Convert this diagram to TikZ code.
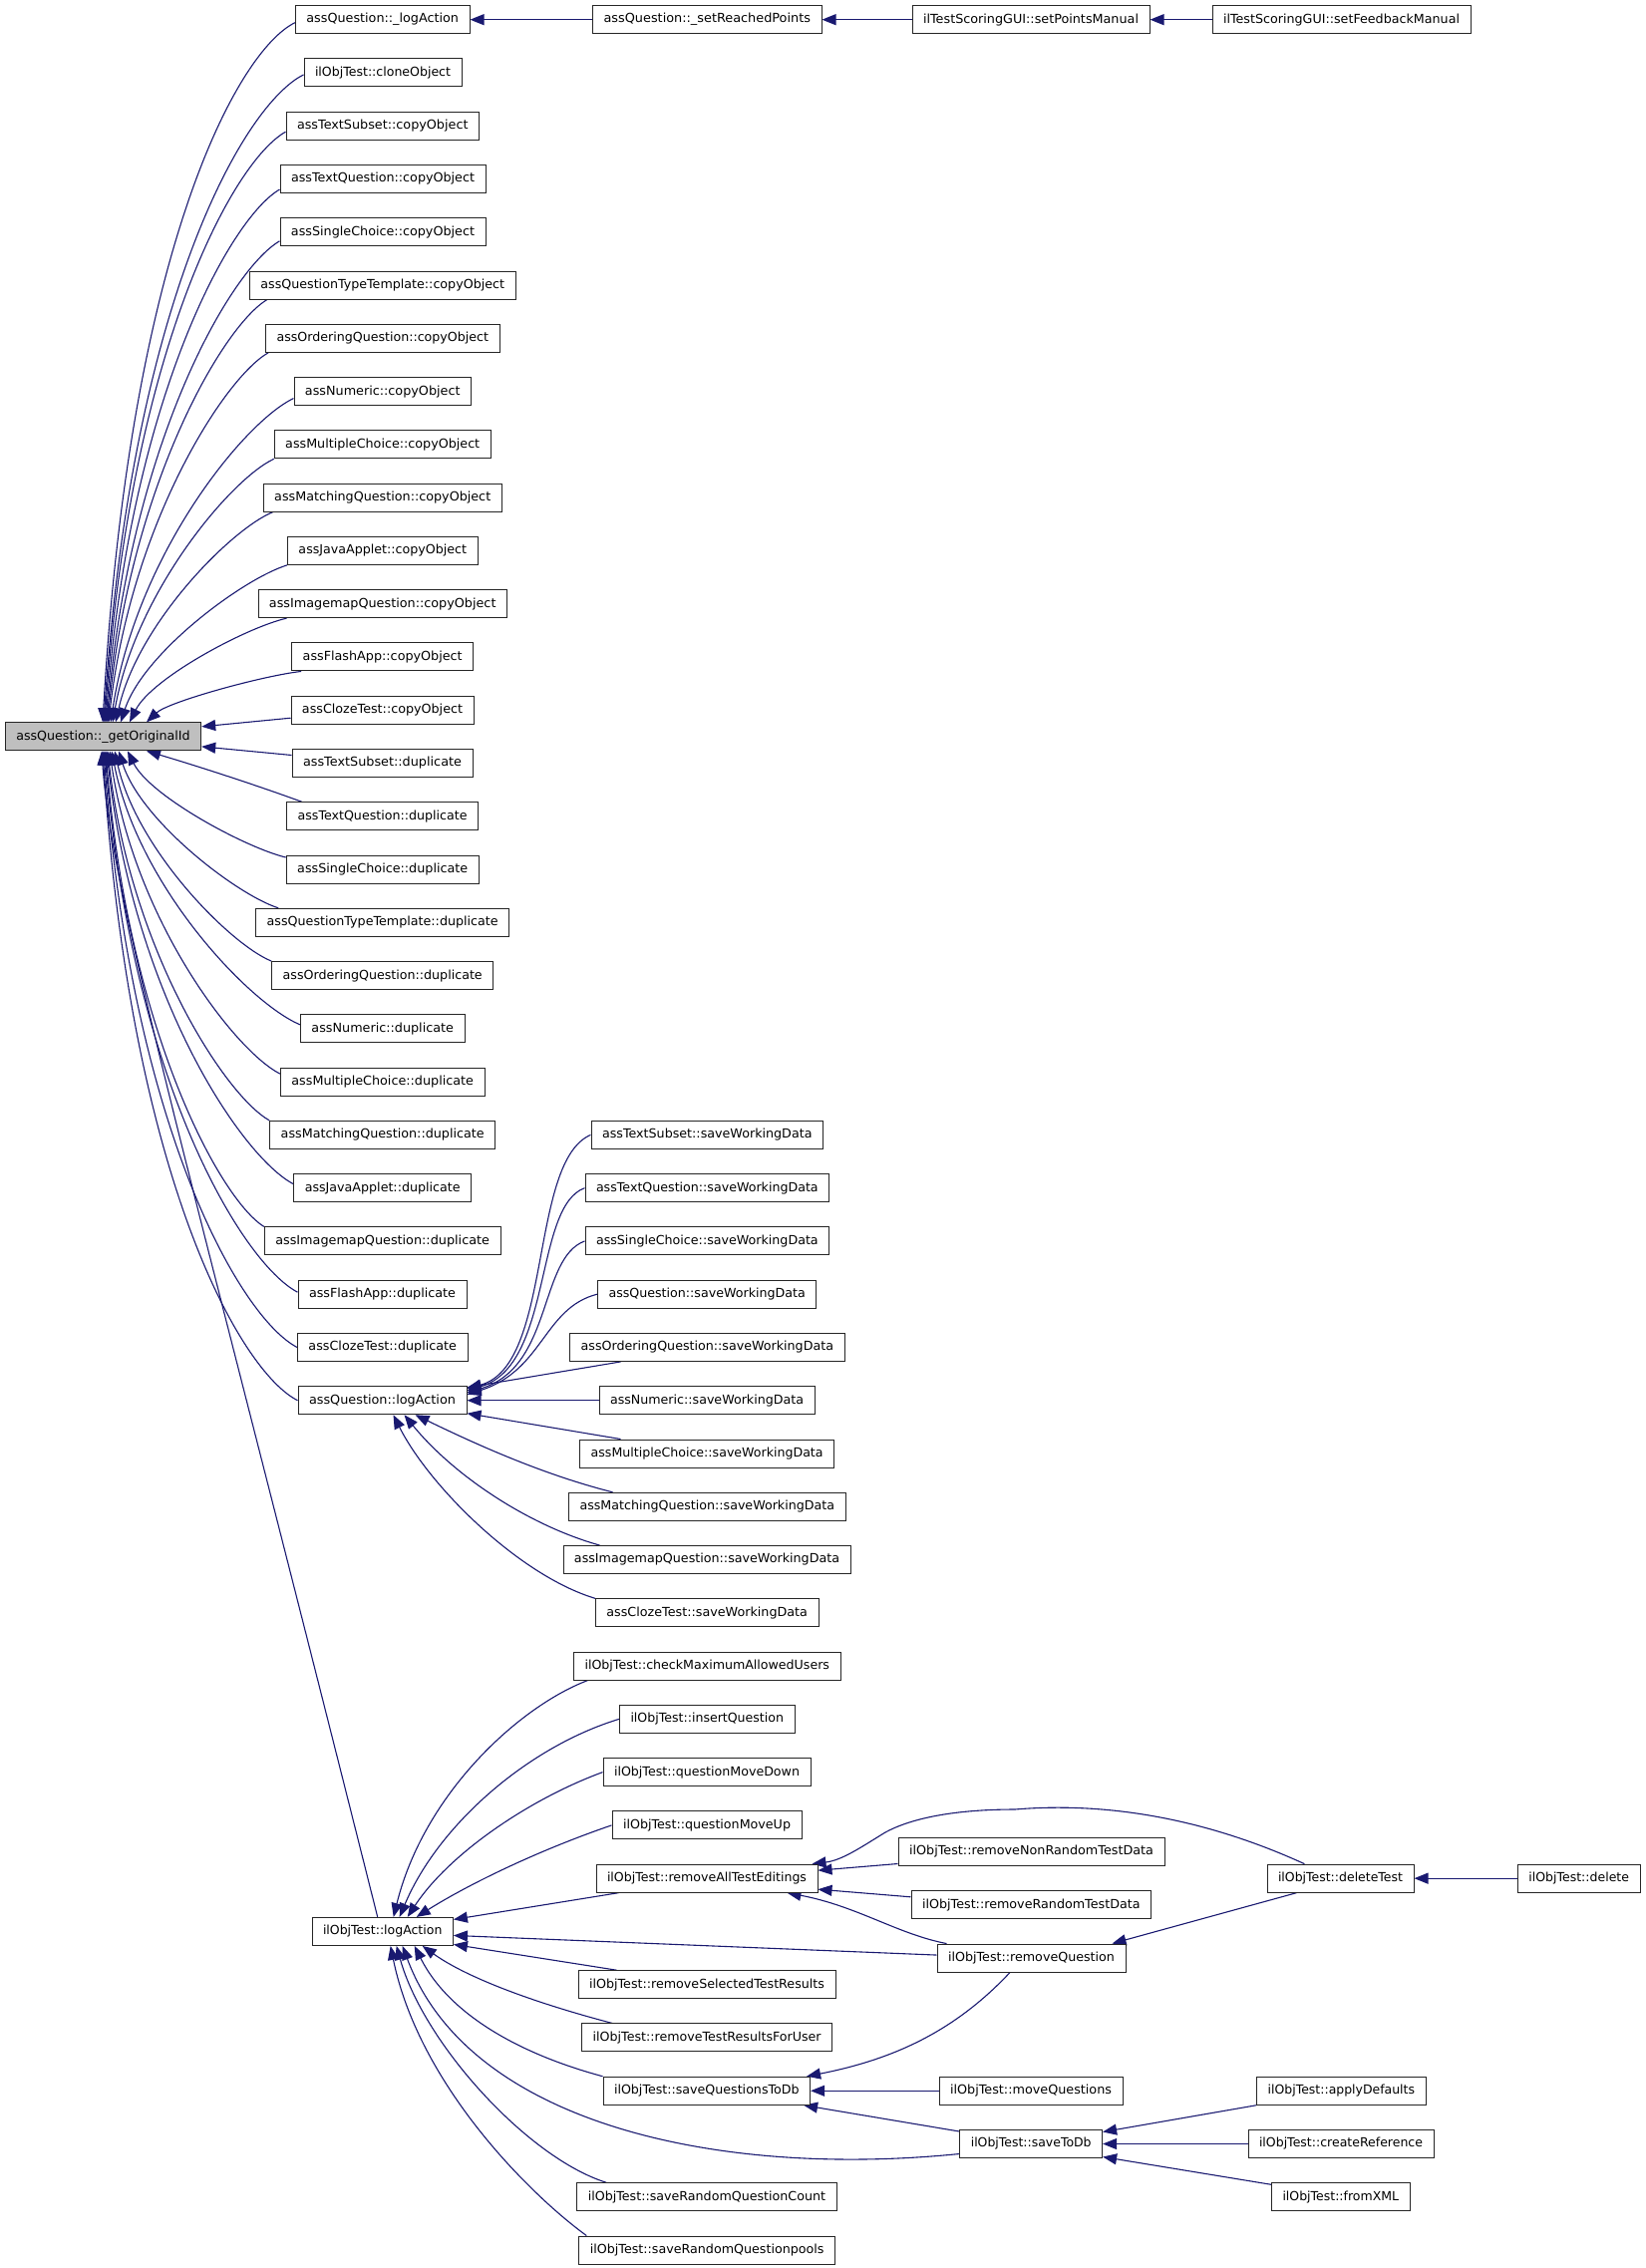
\documentclass[tikz,border=0pt]{standalone}
\usepackage{fontspec}
\setmainfont{DejaVu Sans}
\usepackage{graphicx}
\usetikzlibrary{arrows.meta,calc}
\pgfdeclarelayer{background}
\pgfsetlayers{background,main}
\definecolor{edgec}{HTML}{191970}
\definecolor{nodegray}{HTML}{BFBFBF}
\tikzset{
 box/.style={draw=black!85, line width=1pt, minimum height=28pt, inner sep=0pt, fill=white, font=\fontsize{12.5}{14}\selectfont},
 edge/.style={draw=edgec, line width=1.1pt, -{Triangle[length=14pt,width=11pt]}},
}
\newcommand\mknode[6][]{\node[box,#1,minimum width={(#4-#3)*1pt}] (#2) at ({(#3+#4)/2},#5) {\resizebox{\dimexpr #4pt-#3pt-22pt\relax}{\height}{#6}};}
% #1 start coordinate, #2 #3 its pixel position, #4 end x, #5 end y, #6 anchor of main
\newcommand\fanedge[6]{\draw[edge] #1 .. controls ({#2-(0.25+0.05*abs(#5-#3)/705)*(#2-#4)},{#3+(0.1-0.06*abs(#5-#3)/705)*(#5-#3)}) and ({#4+0.14*(#2-#4)},{#3+(0.62-0.3*abs(#5-#3)/705)*(#5-#3)}) .. ($(main.#6)+({#4-103.5},0)$);}
\begin{document}
\begin{tikzpicture}[x=1pt,y=-1pt]
\useasboundingbox (0,0) rectangle (1651,2275);
% column 1
\mknode[fill=nodegray]{main}{5.3}{201.7}{738.85}{assQuestion::\_getOriginalId}
% column 2
\mknode{qla}{296.4}{471}{19.7}{assQuestion::\_logAction}
\mknode{clone}{305}{463}{72.97}{ilObjTest::cloneObject}
\mknode{tsc}{287}{480.5}{126.24}{assTextSubset::copyObject}
\mknode{tqc}{281}{487}{179.51}{assTextQuestion::copyObject}
\mknode{scc}{281}{487}{232.78}{assSingleChoice::copyObject}
\mknode{qttc}{250.4}{517}{286.05}{assQuestionTypeTemplate::copyObject}
\mknode{oqc}{266.6}{501}{339.32}{assOrderingQuestion::copyObject}
\mknode{nc}{295}{472.5}{392.59}{assNumeric::copyObject}
\mknode{mcc}{275.2}{492.2}{445.86}{assMultipleChoice::copyObject}
\mknode{mqc}{264.2}{503.2}{499.13}{assMatchingQuestion::copyObject}
\mknode{jac}{288.5}{479}{552.4}{assJavaApplet::copyObject}
\mknode{imc}{259}{508.5}{605.67}{assImagemapQuestion::copyObject}
\mknode{fac}{292.7}{474.7}{658.94}{assFlashApp::copyObject}
\mknode{ctc}{292}{475}{712.21}{assClozeTest::copyObject}
\mknode{tsd}{293}{474}{765.48}{assTextSubset::duplicate}
\mknode{tqd}{287.6}{479.5}{818.75}{assTextQuestion::duplicate}
\mknode{scd}{287.2}{480.2}{872.02}{assSingleChoice::duplicate}
\mknode{qttd}{256.7}{510.7}{925.29}{assQuestionTypeTemplate::duplicate}
\mknode{oqd}{272.7}{494.7}{978.56}{assOrderingQuestion::duplicate}
\mknode{nd}{301.5}{466}{1031.83}{assNumeric::duplicate}
\mknode{mcd}{281.4}{486}{1085.1}{assMultipleChoice::duplicate}
\mknode{mqd}{270.7}{496.7}{1138.37}{assMatchingQuestion::duplicate}
\mknode{jad}{294.8}{472.6}{1191.64}{assJavaApplet::duplicate}
\mknode{imd}{265.3}{502}{1244.91}{assImagemapQuestion::duplicate}
\mknode{fad}{299}{468}{1298.18}{assFlashApp::duplicate}
\mknode{ctd}{298.5}{469}{1351.45}{assClozeTest::duplicate}
\mknode{qlog}{299}{468}{1404.72}{assQuestion::logAction}
\mknode{iolog}{313}{454.4}{1937.42}{ilObjTest::logAction}
% column 3
\mknode{srp}{594.6}{824}{19.7}{assQuestion::\_setReachedPoints}
\mknode{tsw}{593}{825.5}{1138.37}{assTextSubset::saveWorkingData}
\mknode{tqw}{587}{831.7}{1191.64}{assTextQuestion::saveWorkingData}
\mknode{scw}{587}{831.7}{1244.91}{assSingleChoice::saveWorkingData}
\mknode{qw}{599.5}{818.8}{1298.18}{assQuestion::saveWorkingData}
\mknode{oqw}{571.7}{847}{1351.45}{assOrderingQuestion::saveWorkingData}
\mknode{nw}{601}{817}{1404.72}{assNumeric::saveWorkingData}
\mknode{mcw}{581.7}{836.6}{1457.99}{assMultipleChoice::saveWorkingData}
\mknode{mqw}{570.5}{848}{1511.26}{assMatchingQuestion::saveWorkingData}
\mknode{imw}{565}{853}{1564.53}{assImagemapQuestion::saveWorkingData}
\mknode{ctw}{597.4}{821}{1617.8}{assClozeTest::saveWorkingData}
\mknode{cmau}{575.5}{843}{1671.07}{ilObjTest::checkMaximumAllowedUsers}
\mknode{iq}{621.5}{797}{1724.34}{ilObjTest::insertQuestion}
\mknode{qmd}{605}{813}{1777.61}{ilObjTest::questionMoveDown}
\mknode{qmu}{614}{804}{1830.88}{ilObjTest::questionMoveUp}
\mknode{rate}{598}{820}{1884.15}{ilObjTest::removeAllTestEditings}
\mknode{rstr}{580}{838}{1990.69}{ilObjTest::removeSelectedTestResults}
\mknode{rtrfu}{583.7}{834.6}{2043.96}{ilObjTest::removeTestResultsForUser}
\mknode{sqtd}{605}{812.6}{2097.23}{ilObjTest::saveQuestionsToDb}
\mknode{srqc}{578.8}{839}{2203.77}{ilObjTest::saveRandomQuestionCount}
\mknode{srqp}{580.8}{837.5}{2257.04}{ilObjTest::saveRandomQuestionpools}
% column 4
\mknode{spm}{915}{1153}{19.7}{ilTestScoringGUI::setPointsManual}
\mknode{rnrtd}{901}{1168}{1857.5}{ilObjTest::removeNonRandomTestData}
\mknode{rrtd}{914}{1154.6}{1910.8}{ilObjTest::removeRandomTestData}
\mknode{rq}{940}{1129}{1964.05}{ilObjTest::removeQuestion}
\mknode{mq}{942}{1126}{2097.23}{ilObjTest::moveQuestions}
\mknode{std}{962.8}{1105.6}{2150.5}{ilObjTest::saveToDb}
% column 5
\mknode{sfm}{1216}{1475}{19.7}{ilTestScoringGUI::setFeedbackManual}
\mknode{dt}{1271}{1418}{1884.15}{ilObjTest::deleteTest}
\mknode{ad}{1260.7}{1430}{2097.23}{ilObjTest::applyDefaults}
\mknode{cr}{1252}{1438}{2150.5}{ilObjTest::createReference}
\mknode{fx}{1275.5}{1414}{2203.77}{ilObjTest::fromXML}
% column 6
\mknode{del}{1522.4}{1645}{1884.15}{ilObjTest::delete}

\begin{pgfonlayer}{background}
% ---- top chain
\draw[edge] (srp.west) -- (qla.east);
\draw[edge] (spm.west) -- (srp.east);
\draw[edge] (sfm.west) -- (spm.east);

% ---- upper fan into main
\fanedge{($(qla.west)+(0,3)$)}{296.4}{22.7}{103}{724.85}{north}
\fanedge{($(clone.west)+(0,2)$)}{305}{75}{104}{724.85}{north}
\fanedge{($(tsc.west)+(0,6)$)}{287}{132.2}{105}{724.85}{north}
\fanedge{($(tqc.west)+(0,10.5)$)}{281}{190}{106}{724.85}{north}
\fanedge{($(scc.west)+(0,9)$)}{281}{241.8}{107}{724.85}{north}
\fanedge{($(qttc.south west)+(18,0)$)}{268.4}{300}{108}{724.85}{north}
\fanedge{($(oqc.south west)+(3,0)$)}{269.6}{353.3}{109}{724.85}{north}
\fanedge{($(nc.west)+(0,7)$)}{295}{399.6}{111}{724.85}{north}
\fanedge{(mcc.south west)}{275.2}{459.9}{113}{724.85}{north}
\fanedge{($(mqc.south west)+(10,0)$)}{274.2}{513.1}{116}{724.85}{north}
\fanedge{(jac.south west)}{288.5}{566.4}{121}{724.85}{north}
\fanedge{($(imc.south west)+(29,0)$)}{288}{619.7}{130}{724.85}{north}
\fanedge{($(fac.south west)+(10,0)$)}{302.7}{672.9}{147}{724.85}{north}
\draw[edge] ($(ctc.west)+(0,8)$) -- ($(main.east)+(0,-10)$);
\draw[edge] ($(tsd.west)+(0,-8)$) -- ($(main.east)+(0,10)$);
\draw[edge] ($(tqd.north west)+(15.6,0)$) .. controls (250,785) and (190,766) .. ($(main.south)+(43.5,0)$);
% ---- lower fan into main
\fanedge{($(scd.west)+(0,-12)$)}{287.2}{860}{128}{752.85}{south}
\fanedge{($(qttd.north west)+(23,0)$)}{279.7}{911.3}{119}{752.85}{south}
\fanedge{(oqd.north west)}{272.7}{964.6}{115}{752.85}{south}
\fanedge{($(nd.west)+(0,-4)$)}{301.5}{1027.8}{112}{752.85}{south}
\fanedge{($(mcd.west)+(0,-8)$)}{281.4}{1077.1}{110}{752.85}{south}
\fanedge{(mqd.north west)}{270.7}{1124.4}{108}{752.85}{south}
\fanedge{($(jad.west)+(0,-4)$)}{294.8}{1187.6}{107}{752.85}{south}
\fanedge{(imd.north west)}{265.3}{1230.9}{106}{752.85}{south}
\fanedge{($(fad.west)+(0,-2)$)}{299}{1296.2}{105}{752.85}{south}
\fanedge{(ctd.west)}{298.5}{1351.45}{104}{752.85}{south}
\fanedge{(qlog.west)}{299}{1404.72}{103}{752.85}{south}
\draw[edge] ($(iolog.north)+(-5,0)$) .. controls (184.5,1150) and (112,900) .. ($(main.south)+(-1.5,0)$);

% ---- saveWorkingData into assQuestion::logAction
\draw[edge] (tsw.west) .. controls (530,1165) and (555,1370) .. ($(qlog.east)+(0,-12)$);
\draw[edge] (tqw.west) .. controls (535,1210) and (555,1370) .. ($(qlog.east)+(0,-10)$);
\draw[edge] (scw.west) .. controls (540,1262) and (555,1372) .. ($(qlog.east)+(0,-8)$);
\draw[edge] (qw.west) .. controls (545,1312) and (545,1375) .. ($(qlog.east)+(0,-6)$);
\draw[edge] ($(oqw.south west)+(51.3,0)$) -- ($(qlog.east)+(0,-13)$);
\draw[edge] (nw.west) -- (qlog.east);
\draw[edge] ($(mcw.north west)+(41.3,0)$) -- ($(qlog.east)+(0,13)$);
\draw[edge] ($(mqw.north west)+(44.5,0)$) .. controls (540,1478) and (470,1445) .. ($(qlog.south)+(33,0)$);
\draw[edge] ($(imw.north west)+(37,0)$) .. controls (530,1530) and (455,1480) .. ($(qlog.south)+(22,0)$);
\draw[edge] (ctw.north west) .. controls (520,1580) and (430,1490) .. ($(qlog.south)+(11,0)$);

% ---- into ilObjTest::logAction
\draw[edge] ($(cmau.south west)+(14.5,0)$) .. controls (520,1712) and (425,1800) .. ($(iolog.north)+(11,0)$);
\draw[edge] (iq.west) .. controls (530,1752) and (440,1830) .. ($(iolog.north)+(17,0)$);
\draw[edge] (qmd.west) .. controls (530,1805) and (450,1860) .. ($(iolog.north)+(25,0)$);
\draw[edge] (qmu.west) .. controls (540,1856) and (470,1890) .. ($(iolog.north)+(34,0)$);
\draw[edge] ($(rate.south west)+(23,0)$) -- ($(iolog.east)+(0,-12)$);
\draw[edge] ($(rq.west)+(0,-3)$) -- ($(iolog.east)+(0,4)$);
\draw[edge] ($(rstr.north west)+(39,0)$) -- ($(iolog.east)+(0,13)$);
\draw[edge] ($(rtrfu.north west)+(31,0)$) .. controls (540,2010) and (470,1985) .. ($(iolog.south)+(40,0)$);
\draw[edge] (sqtd.north west) .. controls (520,2060) and (450,2020) .. ($(iolog.south)+(32,0)$);
\draw[edge] ($(std.west)+(0,10)$) .. controls (720,2185) and (470,2130) .. ($(iolog.south)+(20,0)$);
\draw[edge] ($(srqc.north west)+(30,0)$) .. controls (530,2165) and (425,2050) .. ($(iolog.south)+(14,0)$);
\draw[edge] ($(srqp.north west)+(8,0)$) .. controls (530,2200) and (420,2090) .. ($(iolog.south)+(8,0)$);

% ---- right part
\draw[edge] (del.west) -- (dt.east);
\draw[edge] ($(dt.north west)+(38,0)$) .. controls (1200,1820) and (1100,1808) .. (1018,1815)
   .. controls (950,1815) and (910,1826) .. (888,1838)
   .. controls (865,1852) and (845,1866) .. ($(rate.north east)+(-6,0)$);
\draw[edge] ($(rnrtd.west)+(0,12)$) -- ($(rate.east)+(0,-8)$);
\draw[edge] ($(rrtd.west)+(0,-8)$) -- ($(rate.east)+(0,11)$);
\draw[edge] ($(rq.north west)+(10,0)$) .. controls (900,1940) and (860,1912) .. ($(rate.south east)+(-31,0)$);
\draw[edge] ($(dt.south west)+(30,0)$) -- ($(rq.north east)+(-14,0)$);
\draw[edge] ($(rq.south)+(-21.5,0)$) .. controls (960,2035) and (900,2065) .. ($(sqtd.north east)+(-4,0)$);
\draw[edge] (mq.west) -- (sqtd.east);
\draw[edge] ($(std.north west)+(0,2)$) -- ($(sqtd.south east)+(-7,0)$);
\draw[edge] (ad.south west) -- ($(std.east)+(0,-12)$);
\draw[edge] (cr.west) -- (std.east);
\draw[edge] ($(fx.north west)+(0,2)$) -- ($(std.east)+(0,13)$);
\end{pgfonlayer}
\end{tikzpicture}
\end{document}
